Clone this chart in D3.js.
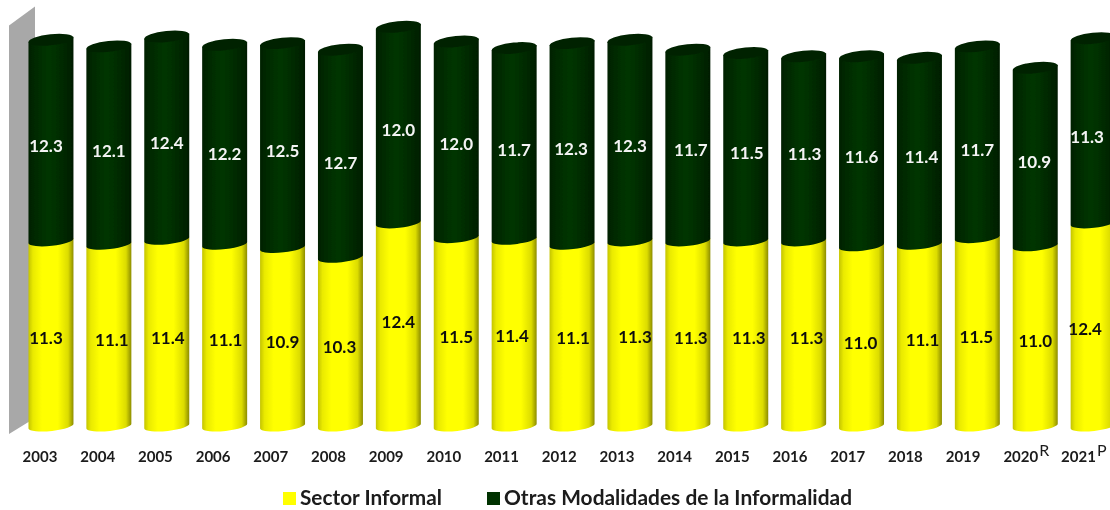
<!DOCTYPE html>
<html>
<head>
<meta charset="utf-8">
<script src="https://cdn.jsdelivr.net/npm/d3@7"></script>
<style>
html, body { margin:0; padding:0; background:#fff; overflow:hidden; }
text { font-family:Lato, "Open Sans", sans-serif; font-weight:700; }
</style>
</head>
<body>
<svg id="chart" width="1110" height="510"></svg>
<script>
const years = ["2003","2004","2005","2006","2007","2008","2009","2010","2011","2012","2013","2014","2015","2016","2017","2018","2019","2020","2021"];
const sectorInformal = [11.3,11.1,11.4,11.1,10.9,10.3,12.4,11.5,11.4,11.1,11.3,11.3,11.3,11.3,11.0,11.1,11.5,11.0,12.4];
const otrasModalidades = [12.3,12.1,12.4,12.2,12.5,12.7,12.0,12.0,11.7,12.3,12.3,11.7,11.5,11.3,11.6,11.4,11.7,10.9,11.3];
const yearMarks = {"2020":"R","2021":"P"};
const seriesNames = ["Sector Informal","Otras Modalidades de la Informalidad"];

// the labels in the original were dragged around by hand a bit
const sectorNudge = [-5,3,1,1,0,-1,0,0,-2,1,5,3,3,3,-1,3,-1,0,-8];
const sectorNudgeY = [0,0,0,0,0,0,-7,0,-2,-2,-1,0,0,0,2,0,0,0,0];
const otrasNudge = [-5,0,0,0,0,0,0,0,0,-1,0,3,1,1,0,2,0,-1,-6];
const otrasNudgeY = [1,1,0,5,1,5,0,0,2,1,1,0,1,1,1,1,3,1,2];

const width = 1110, height = 510;
const svg = d3.select("#chart");

const x = d3.scaleBand()
    .domain(years)
    .range([22.1, 1122])
    .paddingInner(0.223)
    .paddingOuter(0.11);
const y = d3.scaleLinear()
    .domain([0, 26])
    .range([426, 0]);
const xAxisScale = d3.scalePoint()
    .domain(years)
    .range([39.5, 1078]);

const defs = svg.append("defs");
defs.append("filter").attr("id","soft")
    .attr("x","-5%").attr("y","-5%").attr("width","110%").attr("height","110%")
    .append("feGaussianBlur").attr("stdDeviation",0.55);

function addGradient(id, stops) {
    defs.append("linearGradient").attr("id", id)
        .selectAll("stop")
        .data(stops)
        .join("stop")
        .attr("offset", d => d[0])
        .attr("stop-color", d => d[1]);
}
addGradient("yellowBody", [[0,"#c4c400"],[0.1,"#eaea00"],[0.3,"#ffff00"],[0.65,"#ffff00"],[0.88,"#dcdc00"],[1,"#8c8c00"]]);
addGradient("greenBody", [[0,"#012001"],[0.12,"#012801"],[0.45,"#023602"],[0.75,"#012a01"],[1,"#011d01"]]);

const g = svg.append("g").attr("filter","url(#soft)");

// back wall
const wallTop = y(25), wallBottom = y(0);
g.append("path")
    .attr("fill","#a8a8a8")
    .attr("d", d3.line()([
        [9, wallTop + 9], [35, wallTop - 10], [35, wallBottom - 8],
        [9, wallBottom + 8]
    ]) + "Z");

const tilt = 2.5, ry = 5;

// left to right across the front of the cylinder at level yy
function front(x0, x1, yy) {
    return `A${(x1-x0)/2},${ry} -6 0 0 ${x1},${yy-tilt}`;
}
function body(i, fromVal, toVal) {
    const x0 = x(years[i]), x1 = x0 + x.bandwidth();
    const yb = y(fromVal), yt = y(toVal);
    return `M${x0},${yb+tilt}${front(x0,x1,yb)}L${x1},${yt-tilt}L${x0},${yt+tilt}Z`;
}

const bars = g.selectAll("g.bar")
    .data(years)
    .join("g")
    .attr("class","bar");

bars.append("path")
    .attr("fill","url(#yellowBody)")
    .attr("d", (d,i) => body(i, 0, sectorInformal[i]));
bars.append("path")
    .attr("fill","url(#greenBody)")
    .attr("d", (d,i) => body(i, sectorInformal[i], sectorInformal[i] + otrasModalidades[i]));
bars.append("ellipse")
    .attr("fill","#012401")
    .attr("rx", x.bandwidth()/2)
    .attr("ry", 5.5)
    .attr("transform", (d,i) => `translate(${x(d)+x.bandwidth()/2},${y(sectorInformal[i]+otrasModalidades[i])+0.5}) rotate(-6)`);

// data labels
bars.append("text")
    .attr("text-anchor","middle")
    .attr("font-size",17)
    .attr("fill","#111")
    .attr("x", (d,i) => x(d) + x.bandwidth()/2 + sectorNudge[i])
    .attr("y", (d,i) => y(sectorInformal[i]/2) + 11 + sectorNudgeY[i])
    .text((d,i) => sectorInformal[i].toFixed(1));
bars.append("text")
    .attr("text-anchor","middle")
    .attr("font-size",17)
    .attr("fill","#f4f4f4")
    .attr("x", (d,i) => x(d) + x.bandwidth()/2 + otrasNudge[i])
    .attr("y", (d,i) => y(sectorInformal[i] + otrasModalidades[i]/2) + 11 + otrasNudgeY[i])
    .text((d,i) => otrasModalidades[i].toFixed(1));

// year axis, no line or ticks in the original
const axis = g.append("g")
    .attr("transform","translate(0,462)")
    .call(d3.axisBottom(xAxisScale).tickSize(0).tickPadding(0));
axis.select(".domain").remove();
axis.selectAll("text")
    .attr("y",0).attr("dy",0)
    .attr("font-size",15)
    .attr("fill","#1a1a1a");

g.selectAll("text.mark")
    .data(Object.keys(yearMarks))
    .join("text")
    .attr("class","mark")
    .attr("x", d => xAxisScale(d) + 19)
    .attr("y", 456)
    .attr("font-size",16)
    .style("font-weight",400)
    .attr("fill","#1a1a1a")
    .text(d => yearMarks[d]);

// legend, text stretched like the original
const legendX = [283, 487];
const legendLengths = [142, 348];
const legendColors = ["#ffff00","#013001"];
const legend = g.selectAll("g.legend")
    .data(seriesNames)
    .join("g")
    .attr("class","legend")
    .attr("transform",(d,i) => `translate(${legendX[i]},492)`);
legend.append("rect")
    .attr("width",13).attr("height",13)
    .attr("fill",(d,i) => legendColors[i]);
legend.append("text")
    .attr("x",17).attr("y",13)
    .attr("font-size",20)
    .attr("textLength",(d,i) => legendLengths[i])
    .attr("lengthAdjust","spacingAndGlyphs")
    .attr("fill","#1a1a1a")
    .text(d => d);
</script>
</body>
</html>
